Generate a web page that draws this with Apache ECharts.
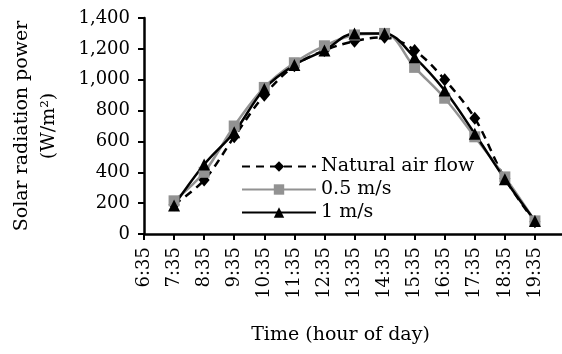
<!DOCTYPE html>
<html>
<head>
<meta charset="utf-8">
<script src="https://cdn.jsdelivr.net/npm/echarts@6/dist/echarts.min.js"></script>
<style>
  html, body { margin: 0; padding: 0; background: #fff; }
  #chart { width: 562px; height: 354px; }
</style>
</head>
<body>
<div id="chart"></div>
<script>
// x tick labels (6:35 has no reading, last blank slot only stretches the axis)
const timeLabels = ['6:35', '7:35', '8:35', '9:35', '10:35', '11:35', '12:35',
  '13:35', '14:35', '15:35', '16:35', '17:35', '18:35', '19:35', ''];

// readings from 7:35 to 19:35
const naturalFlow = [190, 350, 630, 900, 1090, 1190, 1250, 1275, 1190, 1000, 750, 360, 80];
const flow05 = [215, 400, 700, 950, 1110, 1220, 1290, 1300, 1080, 880, 630, 370, 85];
const flow1 = [185, 450, 660, 940, 1095, 1190, 1300, 1300, 1145, 930, 650, 355, 85];

const font = 'DejaVu Serif';
const chart = echarts.init(document.getElementById('chart'));

const option = {
  animation: false,
  textStyle: { fontFamily: font, color: '#000' },
  grid: { left: 144, right: -3, top: 18, bottom: 120, outerBoundsMode: 'none' },
  legend: {
    orient: 'vertical',
    left: 236,
    top: 152,
    itemWidth: 74,
    itemHeight: 13,
    itemGap: 4,
    textStyle: { fontFamily: font, fontSize: 19, color: '#000' },
    data: ['Natural air flow', '0.5 m/s', '1 m/s']
  },
  xAxis: {
    type: 'category',
    data: timeLabels,
    boundaryGap: false,
    name: 'Time (hour of day)',
    nameLocation: 'middle',
    nameGap: 92,
    nameTextStyle: { fontFamily: font, fontSize: 19, color: '#000', padding: [0, 28, 0, 0] },
    axisLine: { lineStyle: { color: '#000', width: 2.5 } },
    axisTick: { show: true, inside: false, length: 6, lineStyle: { color: '#000', width: 2 }, interval: 0 },
    axisLabel: { rotate: 90, interval: 0, fontSize: 18, color: '#000', margin: 13, fontFamily: font }
  },
  yAxis: {
    type: 'value',
    min: 0,
    max: 1400,
    interval: 200,
    name: 'Solar radiation power\n(W/m²)',
    nameLocation: 'middle',
    nameRotate: 90,
    nameGap: 81,
    nameTextStyle: { fontFamily: font, fontSize: 19, color: '#000', lineHeight: 27 },
    splitLine: { show: false },
    axisLine: { show: true, lineStyle: { color: '#000', width: 2.5 } },
    axisTick: { show: true, length: 6, lineStyle: { color: '#000', width: 2 } },
    axisLabel: {
      fontSize: 18, color: '#000', margin: 14, fontFamily: font,
      formatter: v => v.toLocaleString('en-US')
    }
  },
  series: [
    {
      name: 'Natural air flow',
      type: 'line',
      smooth: 0.35,
      data: ['-', ...naturalFlow],
      symbol: 'diamond',
      symbolSize: [11, 13],
      lineStyle: { color: '#000', width: 2.5, type: [8, 6] },
      itemStyle: { color: '#000' }
    },
    {
      name: '0.5 m/s',
      type: 'line',
      smooth: 0.35,
      data: ['-', ...flow05],
      symbol: 'rect',
      symbolSize: 11,
      lineStyle: { color: '#929292', width: 2.5 },
      itemStyle: { color: '#929292' }
    },
    {
      name: '1 m/s',
      type: 'line',
      smooth: 0.35,
      data: ['-', ...flow1],
      symbol: 'triangle',
      symbolSize: 12,
      lineStyle: { color: '#000', width: 2.5 },
      itemStyle: { color: '#000' }
    }
  ]
};

chart.setOption(option);
</script>
</body>
</html>
